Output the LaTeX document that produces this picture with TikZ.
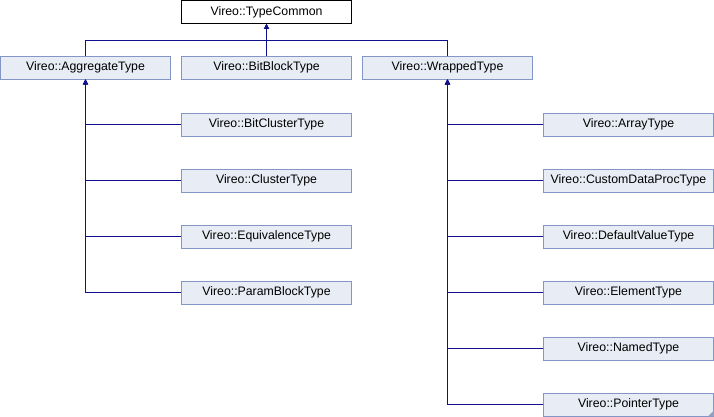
\documentclass[tikz,border=0pt]{standalone}
\usepackage{fontspec}
\setmainfont{Liberation Sans}
\usetikzlibrary{arrows.meta,calc}
\definecolor{boxfill}{RGB}{232,236,244}
\definecolor{boxdraw}{RGB}{132,150,198}
\definecolor{linkcol}{RGB}{16,16,140}
\definecolor{cornercol}{RGB}{150,160,190}
\begin{document}
\begin{tikzpicture}[x=1pt,y=-1pt,
  cls/.style={draw=boxdraw,fill=boxfill,line width=0.9pt,minimum width=170pt,minimum height=23pt,inner sep=0pt,font=\fontsize{12.3}{14}\selectfont},
  topcls/.style={cls,draw=black,fill=white},
  arr/.style={draw=linkcol,line width=0.9pt,-{Triangle[length=5pt,width=5pt]}}]
\useasboundingbox (0,0) rectangle (714,416);
\node[topcls] (tc) at (266.5,12) {Vireo::TypeCommon};
\node[cls] (agg) at (85.5,67.5) {Vireo::AggregateType};
\node[cls] (bb) at (266.5,67.5) {Vireo::BitBlockType};
\node[cls] (wr) at (447.5,67.5) {Vireo::WrappedType};
\node[cls] (bc) at (266.5,124.5) {Vireo::BitClusterType};
\node[cls] (cl) at (266.5,180.5) {Vireo::ClusterType};
\node[cls] (eq) at (266.5,236.5) {Vireo::EquivalenceType};
\node[cls] (pb) at (266.5,292.5) {Vireo::ParamBlockType};
\node[cls] (ar) at (628.5,124.5) {Vireo::ArrayType};
\node[cls] (cd) at (628.5,180.5) {Vireo::CustomDataProcType};
\node[cls] (dv) at (628.5,236.5) {Vireo::DefaultValueType};
\node[cls] (el) at (628.5,292.5) {Vireo::ElementType};
\node[cls] (nt) at (628.5,348.5) {Vireo::NamedType};
\node[cls] (pt) at (628.5,404.5) {Vireo::PointerType};
\fill[cornercol] (pt.south east) -- ++(-6,0) -- ++(6,-6) -- cycle;
\coordinate (bus) at (266.5,40);
\draw[arr] (agg.north) |- (bus) -- (tc.south);
\draw[arr] (wr.north) |- (bus) -- (tc.south);
\draw[arr] (bb.north) -- (tc.south);
\foreach \c in {bc,cl,eq,pb} \draw[arr] (\c.west) -| (agg.south);
\foreach \c in {ar,cd,dv,el,nt,pt} \draw[arr] (\c.west) -| (wr.south);
\end{tikzpicture}
\end{document}
